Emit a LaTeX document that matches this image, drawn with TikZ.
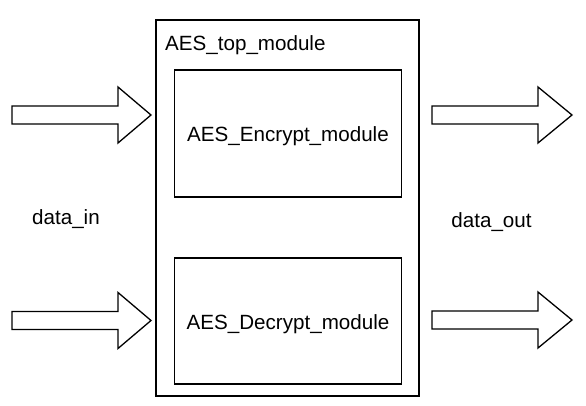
\documentclass[tikz,border=0pt]{standalone}
\usepackage{fontspec}
\setmainfont{Liberation Sans}
\newcommand{\blockarr}[4]{%
  \draw[barrow] (#1,#4-9) -- (#2,#4-9) -- (#2,#4-28) -- (#3,#4) -- (#2,#4+28) -- (#2,#4+9) -- (#1,#4+9) -- cycle;}
\begin{document}
\begin{tikzpicture}[x=1pt,y=-1pt,
  box/.style={draw, line width=1.3pt, fill=white, inner sep=0pt},
  barrow/.style={draw, line width=1.3pt, fill=white, line join=miter},
  lbl/.style={font=\fontsize{20.6}{24}\selectfont, inner sep=0pt}]
\useasboundingbox (0,0) rectangle (586,406);
\node[box, minimum width=263pt, minimum height=376pt] (top) at (287.5,208) {};
\node[box, minimum width=227pt, minimum height=127pt] (enc) at (288,133.5) {};
\node[box, minimum width=227pt, minimum height=126pt] (dec) at (288,321) {};
\node[lbl, anchor=base west] (toplbl) at (165,51) {AES\_top\_module};
\node[lbl, anchor=base] (enclbl) at (288,141.5) {AES\_Encrypt\_module};
\node[lbl, anchor=base] (declbl) at (288,329) {AES\_Decrypt\_module};
\node[lbl, anchor=base] (din) at (66,225) {data\_in};
\node[lbl, anchor=base] (dout) at (491.5,227) {data\_out};
\blockarr{12}{118}{151}{115}
\blockarr{12}{118}{151}{320.5}
\blockarr{432}{538}{572}{115}
\blockarr{432}{538}{572}{320}
\end{tikzpicture}
\end{document}
